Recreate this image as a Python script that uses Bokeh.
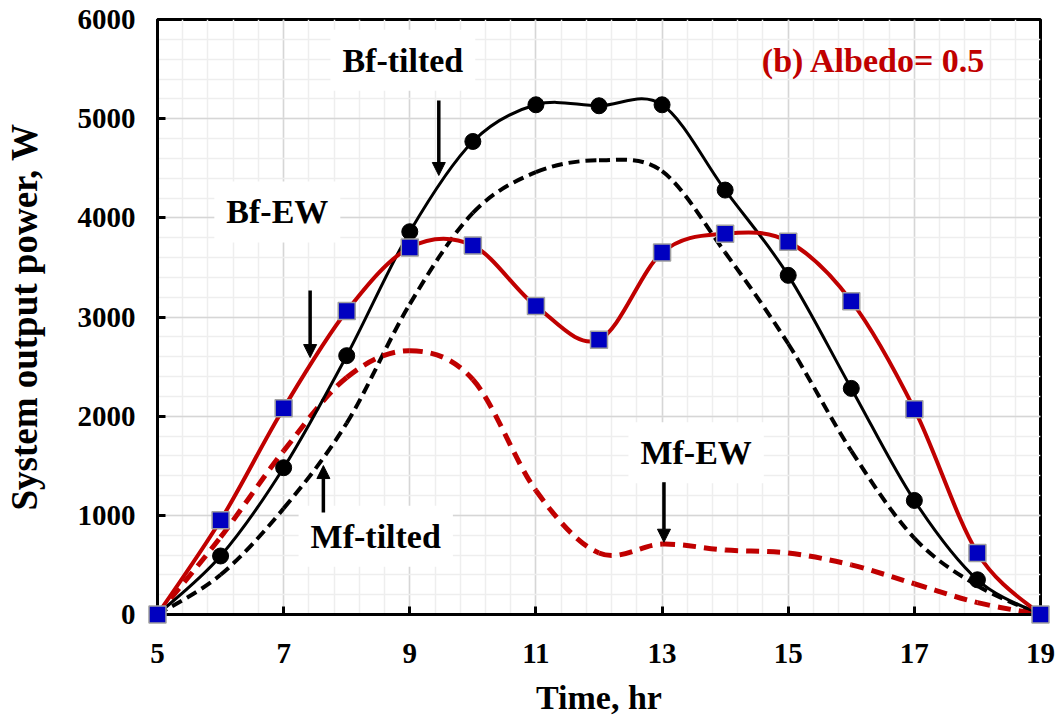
import numpy as np
from bokeh.plotting import figure
from bokeh.models import Range1d, FixedTicker, Label, Arrow, NormalHead
from bokeh.embed import file_html
from bokeh.resources import INLINE

# ---------------- data ----------------
hours = [5, 6, 7, 8, 9, 10, 11, 12, 13, 14, 15, 16, 17, 18, 19]
bf_tilted = [0, 590, 1480, 2610, 3860, 4770, 5140, 5130, 5140, 4280, 3420, 2280, 1150, 350, 0]
bf_ew = [0, 950, 2080, 3060, 3700, 3720, 3110, 2770, 3650, 3840, 3760, 3160, 2070, 620, 0]
mf_tilted = [0, 400, 1070, 1930, 3130, 4050, 4460, 4580, 4470, 3650, 2730, 1650, 770, 290, 0]
mf_ew = [0, 780, 1650, 2390, 2660, 2370, 1250, 620, 710, 650, 620, 500, 310, 120, 0]

x_tick_labels = ["5", "7", "9", "11", "13", "15", "17", "19"]
y_tick_labels = ["0", "1000", "2000", "3000", "4000", "5000", "6000"]

FONT = "Liberation Serif"
RED = "#c00000"


def smooth(x, y):
    """Catmull-Rom style cubic Bezier segments through the data points."""
    x = np.asarray(x, float)
    y = np.asarray(y, float)
    n = len(x)
    xp = np.concatenate([[x[0]], x, [x[-1]]])
    yp = np.concatenate([[y[0]], y, [y[-1]]])
    cx0 = x[:-1] + (xp[2:n + 1] - xp[0:n - 1]) / 6.0
    cy0 = y[:-1] + (yp[2:n + 1] - yp[0:n - 1]) / 6.0
    cx1 = x[1:] - (xp[3:n + 2] - xp[1:n]) / 6.0
    cy1 = y[1:] - (yp[3:n + 2] - yp[1:n]) / 6.0
    return dict(x0=x[:-1], y0=y[:-1], x1=x[1:], y1=y[1:],
                cx0=cx0, cy0=cy0, cx1=cx1, cy1=cy1)


p = figure(width=1060, height=723, output_backend="svg", toolbar_location=None,
           x_range=Range1d(5, 19), y_range=Range1d(0, 6000),
           min_border_left=155, min_border_right=20, min_border_top=19,
           min_border_bottom=109)

p.background_fill_color = "white"
p.border_fill_color = "white"
p.outline_line_color = "black"
p.outline_line_width = 3

x_ticks = [int(s) for s in x_tick_labels]
y_ticks = [int(s) for s in y_tick_labels]
xt = FixedTicker(ticks=x_ticks, minor_ticks=[x_ticks[0] + 0.4 * k for k in range(36)])
yt = FixedTicker(ticks=y_ticks, minor_ticks=[200 * k for k in range(31)])
p.xaxis.ticker = xt
p.yaxis.ticker = yt
p.xaxis.major_label_overrides = {v: s for v, s in zip(x_ticks, x_tick_labels)}
p.yaxis.major_label_overrides = {v: s for v, s in zip(y_ticks, y_tick_labels)}

p.xgrid.ticker = xt
p.ygrid.ticker = yt
for g in (p.xgrid, p.ygrid):
    g.grid_line_color = "#d6d6d6"
    g.grid_line_width = 1.5
    g.minor_grid_line_color = "#eeeeee"
    g.minor_grid_line_width = 1.5

for ax in (p.xaxis, p.yaxis):
    ax.axis_line_width = 3
    ax.axis_line_color = "black"
    ax.major_tick_in = 8
    ax.major_tick_out = 0
    ax.major_tick_line_width = 3
    ax.minor_tick_line_color = None
    ax.major_label_text_font = FONT
    ax.major_label_text_font_style = "bold"
    ax.major_label_text_font_size = "29px"
    ax.major_label_text_color = "black"
    ax.axis_label_text_font = FONT
    ax.axis_label_text_font_style = "bold"
    ax.axis_label_text_color = "black"

p.xaxis.axis_label = "Time, hr"
p.yaxis.axis_label = "System output power, W"
p.xaxis.axis_label_text_font_size = "34px"
p.yaxis.axis_label_text_font_size = "37px"
p.xaxis.major_label_standoff = 25
p.yaxis.major_label_standoff = 18
p.xaxis.axis_label_standoff = 13
p.yaxis.axis_label_standoff = 30

# ---------------- curves ----------------
p.bezier(**smooth(hours, mf_tilted), line_color="black", line_width=4, line_dash="11 6")
p.bezier(**smooth(hours, mf_ew), line_color=RED, line_width=5, line_dash="13 8")
p.bezier(**smooth(hours, bf_tilted), line_color="black", line_width=3)
p.scatter(hours, bf_tilted, marker="circle", size=16, fill_color="black", line_color="black")
p.bezier(**smooth(hours, bf_ew), line_color=RED, line_width=4)
p.scatter(hours, bf_ew, marker="square", size=17, fill_color="#0000c0",
          line_color="#a0a0a0", line_width=1.5, level="overlay")

# ---------------- annotations ----------------
def add_label(x, y, text, color="black", size="34px", bg=True):
    lab = Label(x=x, y=y, text=text, text_font=FONT, text_font_style="bold",
                text_font_size=size, text_color=color, text_align="center",
                text_baseline="middle")
    if bg:
        lab.background_fill_color = "white"
        lab.background_fill_alpha = 1.0
        lab.padding = 12
    p.add_layout(lab)


add_label(8.89, 5590, "Bf-tilted")
add_label(6.90, 4060, "Bf-EW")
add_label(8.46, 790, "Mf-tilted")
add_label(13.54, 1630, "Mf-EW")
add_label(16.36, 5590, "(b) Albedo= 0.5", color=RED, bg=False)


def add_arrow(x, y0, y1):
    p.add_layout(Arrow(x_start=x, y_start=y0, x_end=x, y_end=y1, line_width=3.5,
                       line_color="black",
                       end=NormalHead(size=13, fill_color="black", line_color="black")))


add_arrow(9.46, 5183, 4427)
add_arrow(7.42, 3267, 2591)
add_arrow(7.63, 1029, 1502)
add_arrow(13.03, 1334, 729)

open("out.html", "w").write(file_html(p, INLINE))
